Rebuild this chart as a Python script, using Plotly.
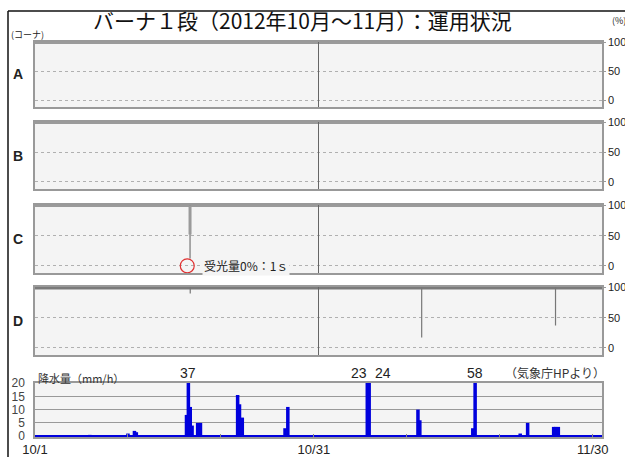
import plotly.graph_objects as go

# ---------------- data ----------------
corners = ["A", "B", "C", "D"]
pct_ticks = [0, 50, 100]
# days since 10/1 00:00 ; each corner stays at 100% except dips
dip_days = {"A": [], "B": [], "C": [16.68], "D": [16.7, 41.6, 56.0]}
dip_main = {"A": [], "B": [], "C": [52], "D": [90, 17, 37]}
dip_min = {"A": [], "B": [], "C": [12], "D": [90, 17, 37]}
month_split_day = 30.5

rain_day = [5.9, 10.0, 10.7, 10.9, 16.3, 16.5, 16.7, 16.9, 17.5, 17.8,
            21.8, 22.0, 22.3, 26.9, 27.2, 35.75, 35.95, 41.2, 41.4,
            47.1, 47.35, 52.2, 53.0, 55.8, 56.0, 56.3]
rain_mm = [0.5, 1, 2, 1.5, 8, 37, 11, 4, 5, 5,
           15.5, 12, 7, 3, 11, 23, 24, 10, 6,
           3, 58, 1, 5, 3.5, 3.5, 3.5]
rain_ticks = [0, 5, 10, 15, 20]
date_tickvals = [0, 10, 20, 30, 40, 50, 60]
date_ticktext = ["10/1", "", "", "10/31", "", "", "11/30"]

title = "バーナ１段（2012年10月～11月）：運用状況"

# ---------------- layout helpers ----------------
W, H = 625, 457
def ydom(top, bot):
    return [1 - bot / H, 1 - top / H]
xdom = [35 / W, 602 / W]
panel_px = [(42, 107), (122, 189), (205, 273), (287, 355)]
rain_px = (383, 437)

JP = "Noto Sans CJK JP"
NUM = "Liberation Sans Narrow, Liberation Sans, sans-serif"

fig = go.Figure()
layout = dict(width=W, height=H, margin=dict(l=0, r=0, t=0, b=0, autoexpand=False),
              paper_bgcolor="white", plot_bgcolor="#f4f4f4",
              showlegend=False, shapes=[], annotations=[])

for i, c in enumerate(corners):
    n = i + 1
    xa = "x" if n == 1 else f"x{n}"
    ya = "y" if n == 1 else f"y{n}"
    top_color = "#7a7a7a" if c == "D" else "#9a9a9a"
    top_w = 4 if c == "D" else 3
    fig.add_trace(go.Scatter(x=[0, 61], y=[100, 100], mode="lines",
                             line=dict(color=top_color, width=top_w),
                             xaxis=xa, yaxis=ya, hoverinfo="skip", cliponaxis=False))
    xs, ys = [], []
    for d, m in zip(dip_days[c], dip_min[c]):
        xs += [d, d, None]; ys += [100, m, None]
    if xs:
        fig.add_trace(go.Scatter(x=xs, y=ys, mode="lines",
                                 line=dict(color="#777", width=1.2),
                                 xaxis=xa, yaxis=ya, hoverinfo="skip"))
    if c == "C":
        xs, ys = [], []
        for d, m in zip(dip_days[c], dip_main[c]):
            xs += [d, d, None]; ys += [100, m, None]
        fig.add_trace(go.Scatter(x=xs, y=ys, mode="lines",
                                 line=dict(color="#9a9a9a", width=3),
                                 xaxis=xa, yaxis=ya, hoverinfo="skip"))
    t, b = panel_px[i]
    layout["xaxis" if n == 1 else f"xaxis{n}"] = dict(
        domain=xdom, range=[0, 61], anchor=ya, showticklabels=False, ticks="",
        showgrid=False, zeroline=False, showline=True, linecolor="#999",
        linewidth=1.5, mirror=True, fixedrange=True, automargin=False)
    layout["yaxis" if n == 1 else f"yaxis{n}"] = dict(
        domain=ydom(t, b), range=[-12, 101], anchor=xa, side="right",
        tickvals=pct_ticks, ticks="outside", ticklen=2, tickcolor="#999",
        ticklabelstandoff=0,
        tickfont=dict(family=NUM, size=11, color="#222"),
        showgrid=True, gridcolor="#b0b0b0", griddash="dot", gridwidth=1,
        zeroline=False, showline=True, linecolor="#999", linewidth=1.5,
        mirror=True, fixedrange=True, automargin=False)
    layout["shapes"].append(dict(type="line", xref=xa, yref=f"{ya} domain",
                                 x0=month_split_day, x1=month_split_day, y0=0, y1=1,
                                 line=dict(color="#666", width=1)))
    layout["annotations"].append(dict(text=f"<b>{c}</b>", xref="paper", yref="paper",
                                      x=18 / W, y=1 - ((t + b) / 2) / H,
                                      xanchor="center", yanchor="middle",
                                      showarrow=False, font=dict(family=NUM, size=14, color="#222")))

# rain panel
fig.add_trace(go.Bar(x=rain_day, y=rain_mm, width=0.38, marker=dict(color="#0000dd", line_width=0),
                     xaxis="x5", yaxis="y5", hoverinfo="skip"))
fig.add_trace(go.Scatter(x=[0, 61], y=[0, 0], mode="lines", line=dict(color="#0000dd", width=2.5),
                         xaxis="x5", yaxis="y5", hoverinfo="skip"))
layout["xaxis5"] = dict(domain=xdom, range=[0, 61], anchor="y5",
                        tickvals=date_tickvals, ticktext=date_ticktext, ticks="inside",
                        ticklen=3, tickcolor="#888", ticklabelstandoff=0,
                        tickfont=dict(family=NUM, size=13, color="#222"),
                        showgrid=False, zeroline=False, showline=True, linecolor="#999",
                        linewidth=1.5, mirror=True, fixedrange=True, automargin=False)
layout["yaxis5"] = dict(domain=ydom(*rain_px), range=[-0.3, 20], anchor="x5",
                        tickvals=rain_ticks, ticks="", ticklabelstandoff=6,
                        tickfont=dict(family=NUM, size=12, color="#444"),
                        showgrid=True, gridcolor="#999", gridwidth=1.2, zeroline=False,
                        showline=True, linecolor="#999", linewidth=1.5, mirror=True,
                        fixedrange=True, automargin=False)

# value labels for clipped bars
offsets = {35.75: -8, 35.95: 14}
for d, v in zip(rain_day, rain_mm):
    if v > 20:
        layout["annotations"].append(dict(text=str(v), xref="x5", yref="paper", x=d,
                                          y=1 - 373 / H, xshift=offsets.get(d, 0),
                                          xanchor="center", yanchor="middle",
                                          showarrow=False,
                                          font=dict(family=NUM, size=14, color="#222")))

layout["annotations"] += [
    dict(text="降水量（mm/h）", xref="paper", yref="paper", x=36 / W, y=1 - 378 / H,
         xanchor="left", yanchor="middle", showarrow=False,
         font=dict(family=JP, size=11, color="#333")),
    dict(text="（気象庁HPより）", xref="paper", yref="paper", x=607 / W, y=1 - 372 / H,
         xanchor="right", yanchor="middle", showarrow=False,
         font=dict(family=JP, size=12, color="#333")),
    dict(text=title, xref="paper", yref="paper", x=302 / W, y=1 - 20 / H,
         xanchor="center", yanchor="middle", showarrow=False,
         font=dict(family=JP, size=21, color="#111")),
    dict(text="(コーナ)", xref="paper", yref="paper", x=9 / W, y=1 - 35 / H,
         xanchor="left", yanchor="middle", showarrow=False,
         font=dict(family=JP, size=9, color="#222")),
    dict(text="(%)", xref="paper", yref="paper", x=610 / W, y=1 - 21 / H,
         xanchor="left", yanchor="middle", showarrow=False,
         font=dict(family=JP, size=9, color="#222")),
    dict(text="受光量0%：1ｓ", xref="x3", yref="y3", x=dip_days["C"][0], y=0,
         xshift=12, xanchor="left", yanchor="middle", showarrow=False, bgcolor="#f4f4f4",
         font=dict(family=JP, size=12, color="#222")),
]

layout["shapes"] += [
    dict(type="circle", xref="x3", yref="y3", xsizemode="pixel", ysizemode="pixel",
         xanchor=dip_days["C"][0] - 0.3, yanchor=0, x0=-7, x1=7, y0=-7, y1=7,
         line=dict(color="#e03030", width=1.2)),
    dict(type="line", xref="paper", yref="paper", x0=8 / W, x1=1, y0=1 - 11 / H, y1=1 - 11 / H,
         line=dict(color="#111", width=1.5)),
    dict(type="line", xref="paper", yref="paper", x0=8 / W, x1=8 / W, y0=0, y1=1 - 11 / H,
         line=dict(color="#111", width=1.5)),
]

fig.update_layout(**layout)
fig.write_html("out.html", config={"displayModeBar": False},
               post_script="document.body.style.margin='0';document.body.style.overflow='hidden';")
